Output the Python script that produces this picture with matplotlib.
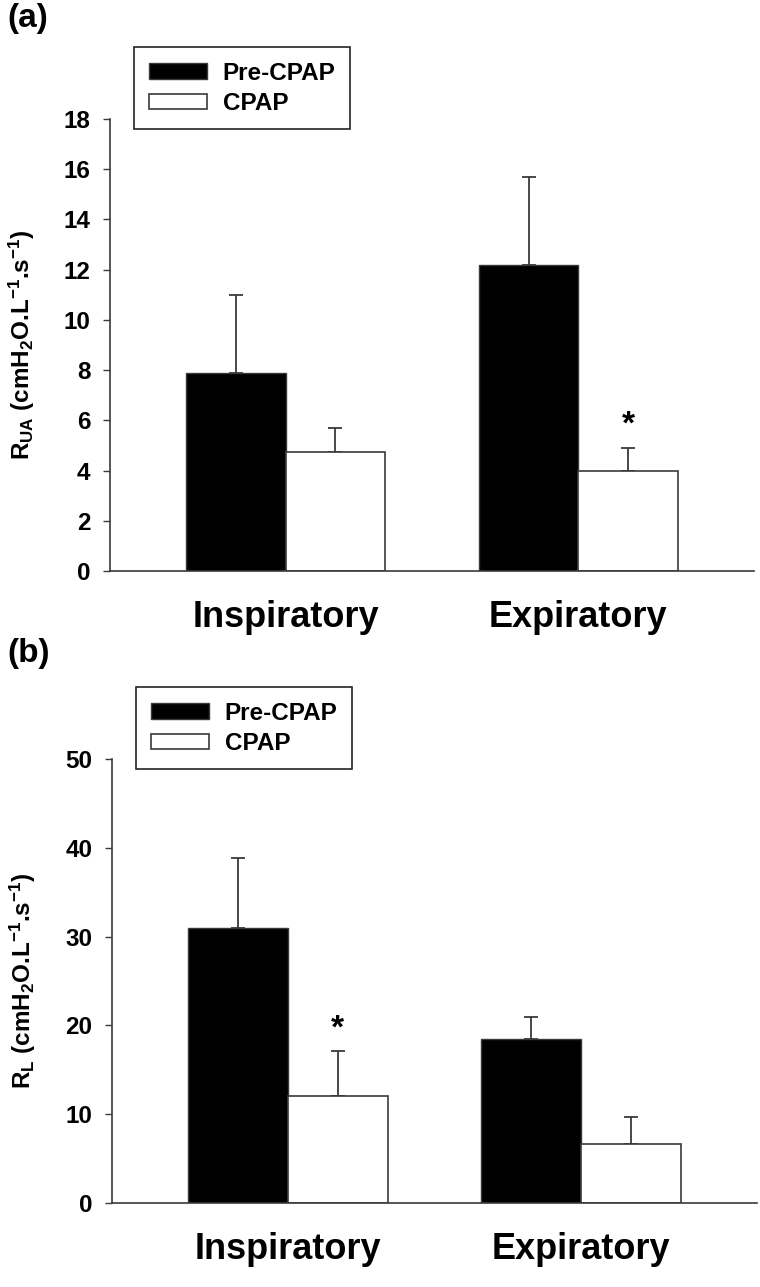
import numpy as np
import matplotlib
matplotlib.use('Agg')
import matplotlib.pyplot as plt

plt.rcParams['font.family'] = ['Liberation Sans', 'DejaVu Sans']
plt.rcParams['font.weight'] = 'bold'
plt.rcParams['mathtext.fontset'] = 'custom'
plt.rcParams['mathtext.rm'] = 'Liberation Sans:bold'
plt.rcParams['mathtext.it'] = 'Liberation Sans:bold'
plt.rcParams['mathtext.bf'] = 'Liberation Sans:bold'

phases = ['Inspiratory', 'Expiratory']
series = ['Pre-CPAP', 'CPAP']

# panel (a): upper airway resistance
rua_pre = [7.9, 12.2]
rua_pre_err = [3.1, 3.5]
rua_cpap = [4.75, 4.0]
rua_cpap_err = [0.95, 0.9]
rua_sig = [False, True]

# panel (b): lung resistance
rl_pre = [31.0, 18.5]
rl_pre_err = [7.8, 2.4]
rl_cpap = [12.0, 6.7]
rl_cpap_err = [5.1, 3.0]
rl_sig = [True, False]

edge = '#3a3a3a'
W, H = 760, 1287
fig = plt.figure(figsize=(W / 100, H / 100), dpi=100)


def panel(rect, pre, pre_err, cpap, cpap_err, sig, ymax, step, ylabel, tag, tag_y, leg_xy):
	ax = fig.add_axes(rect)
	x = np.arange(len(phases))
	w = 0.34
	ax.bar(x - w / 2, pre, w, color='black', edgecolor=edge, linewidth=1.0, label=series[0], zorder=2)
	ax.bar(x + w / 2, cpap, w, color='white', edgecolor=edge, linewidth=1.2, label=series[1], zorder=2)
	# upper error bars only
	ax.errorbar(x - w / 2, pre, yerr=[np.zeros(len(pre)), pre_err], fmt='none', ecolor=edge,
				elinewidth=1.3, capsize=5, capthick=1.3, zorder=1)
	ax.errorbar(x + w / 2, cpap, yerr=[np.zeros(len(cpap)), cpap_err], fmt='none', ecolor=edge,
				elinewidth=1.3, capsize=5, capthick=1.3, zorder=1)
	for i in range(len(phases)):
		if sig[i]:
			ax.annotate('*', (x[i] + w / 2, cpap[i] + cpap_err[i]), xytext=(0, 5),
						textcoords='offset points', ha='center', va='bottom', fontsize=24, fontweight='bold')

	ax.set_xlim(-0.6, 1.6)
	ax.set_ylim(0, ymax)
	ax.set_yticks(np.arange(0, ymax + 0.1, step))
	ax.tick_params(axis='y', direction='out', length=5, width=1.0, color=edge, labelsize=17.5, pad=9)
	ax.set_xticks(x)
	ax.set_xticklabels(phases, fontsize=26, fontweight='bold')
	ax.tick_params(axis='x', length=0, pad=21)
	for s in ['top', 'right']:
		ax.spines[s].set_visible(False)
	for s in ['left', 'bottom']:
		ax.spines[s].set_color(edge)
		ax.spines[s].set_linewidth(1.2)

	ax.set_ylabel(ylabel, fontsize=17.5, fontweight='bold')
	ax.yaxis.set_label_coords(-0.114, 0.5)

	fig.text(7 / W, 1 - tag_y / H, tag, fontsize=24, fontweight='bold', va='top', ha='left')

	leg = ax.legend(loc='upper left', bbox_to_anchor=(leg_xy[0] / W, 1 - leg_xy[1] / H),
					bbox_transform=fig.transFigure, borderaxespad=0, fontsize=17.5,
					handlelength=2.4, handleheight=0.6, handletextpad=0.65, labelspacing=0.3,
					borderpad=0.6, fancybox=False, framealpha=1, edgecolor='#222222')
	leg.get_frame().set_linewidth(1.2)
	return ax


panel([110 / W, 1 - 571 / H, 644 / W, 452 / H], rua_pre, rua_pre_err, rua_cpap, rua_cpap_err, rua_sig,
	  18, 2, r'R$_{\mathrm{UA}}$ (cmH$_{\mathrm{2}}$O.L$^{\mathrm{-1}}$.s$^{\mathrm{-1}}$)', '(a)', 3, (134, 47))

panel([112 / W, 1 - 1203 / H, 645 / W, 444 / H], rl_pre, rl_pre_err, rl_cpap, rl_cpap_err, rl_sig,
	  50, 10, r'R$_{\mathrm{L}}$ (cmH$_{\mathrm{2}}$O.L$^{\mathrm{-1}}$.s$^{\mathrm{-1}}$)', '(b)', 638, (136, 687))

fig.savefig('out.png', dpi=100)
